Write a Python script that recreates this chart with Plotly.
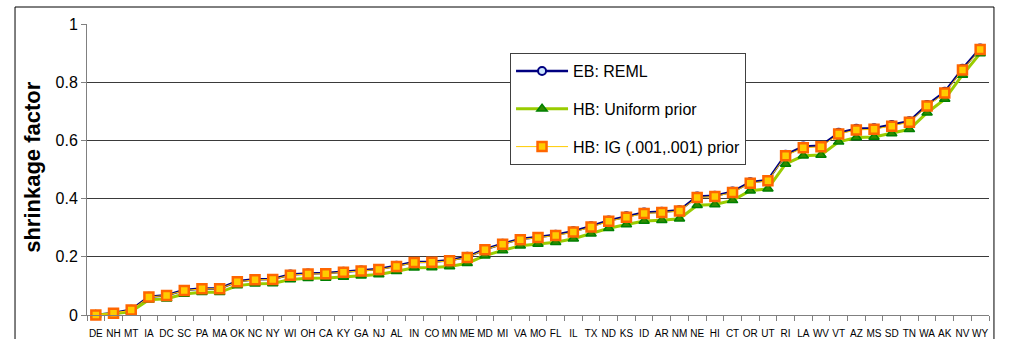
import plotly.graph_objects as go

states = ["DE", "NH", "MT", "IA", "DC", "SC", "PA", "MA", "OK", "NC", "NY", "WI", "OH",
          "CA", "KY", "GA", "NJ", "AL", "IN", "CO", "MN", "ME", "MD", "MI", "VA", "MO",
          "FL", "IL", "TX", "ND", "KS", "ID", "AR", "NM", "NE", "HI", "CT", "OR", "UT",
          "RI", "LA", "WV", "VT", "AZ", "MS", "SD", "TN", "WA", "AK", "NV", "WY"]

eb_reml = [0.000, 0.007, 0.018, 0.063, 0.068, 0.086, 0.091, 0.091, 0.116, 0.123, 0.124,
           0.139, 0.143, 0.144, 0.149, 0.153, 0.158, 0.169, 0.182, 0.183, 0.188, 0.200,
           0.226, 0.245, 0.261, 0.268, 0.276, 0.288, 0.305, 0.325, 0.339, 0.352, 0.355,
           0.360, 0.407, 0.410, 0.424, 0.456, 0.464, 0.551, 0.579, 0.582, 0.626, 0.640,
           0.642, 0.653, 0.666, 0.722, 0.767, 0.846, 0.916]

hb_uniform = [0.000, 0.004, 0.012, 0.052, 0.056, 0.072, 0.078, 0.078, 0.101, 0.107, 0.108,
              0.122, 0.126, 0.127, 0.131, 0.135, 0.139, 0.150, 0.162, 0.163, 0.167, 0.178,
              0.204, 0.222, 0.238, 0.244, 0.250, 0.262, 0.279, 0.298, 0.311, 0.323, 0.326,
              0.331, 0.377, 0.380, 0.394, 0.427, 0.434, 0.519, 0.547, 0.550, 0.595, 0.610,
              0.612, 0.624, 0.638, 0.695, 0.742, 0.825, 0.899]

hb_ig = [0.000, 0.006, 0.017, 0.062, 0.067, 0.084, 0.090, 0.090, 0.114, 0.121, 0.122,
         0.137, 0.141, 0.142, 0.147, 0.151, 0.156, 0.167, 0.180, 0.181, 0.186, 0.198,
         0.224, 0.243, 0.259, 0.266, 0.273, 0.285, 0.302, 0.322, 0.336, 0.349, 0.352,
         0.357, 0.404, 0.407, 0.421, 0.453, 0.461, 0.547, 0.575, 0.578, 0.622, 0.636,
         0.638, 0.649, 0.662, 0.718, 0.763, 0.842, 0.912]

y_ticks = [0, 0.2, 0.4, 0.6, 0.8, 1]
y_tick_text = ["0", "0.2", "0.4", "0.6", "0.8", "1"]

fig = go.Figure()

fig.add_trace(go.Scatter(
    x=states, y=eb_reml, name="EB: REML", mode="lines+markers",
    legendgroup="eb", cliponaxis=False,
    line=dict(color="#000080", width=2.5),
    marker=dict(symbol="circle", size=8, color="#CCE6FF",
                line=dict(color="#000080", width=2)),
))
fig.add_trace(go.Scatter(
    x=states, y=hb_uniform, name="HB: Uniform prior", mode="lines+markers",
    legendgroup="unif", cliponaxis=False,
    line=dict(color="#99CC00", width=3),
    marker=dict(symbol="triangle-up", size=9, color="#2E8B00",
                line=dict(color="#008000", width=1.5)),
))
fig.add_trace(go.Scatter(
    x=states, y=hb_ig, name="HB: IG (.001,.001) prior", mode="lines+markers",
    legendgroup="ig", cliponaxis=False,
    line=dict(color="#FFCC00", width=1),
    marker=dict(symbol="square", size=9, color="#FFCC00",
                line=dict(color="#FF6600", width=2.5)),
))

# outer chart frame
fig.add_shape(type="rect", xref="paper", yref="paper",
              x0=-0.0798, x1=1.0055, y0=-0.12, y1=1.0584,
              line=dict(color="black", width=1), fillcolor="rgba(0,0,0,0)",
              layer="below")

fig.add_annotation(
    text="<b>shrinkage factor</b>", textangle=-90,
    xref="paper", yref="paper", x=-0.0599, y=0.509,
    xanchor="center", yanchor="middle",
    showarrow=False, font=dict(family="Liberation Sans, Arial", size=22, color="black"),
)

fig.update_layout(
    width=1011, height=339,
    margin=dict(l=87, r=22, t=24, b=24),
    paper_bgcolor="white", plot_bgcolor="white",
    font=dict(family="Liberation Sans, Arial", color="black"),
    showlegend=True,
    legend=dict(
        x=0.469, y=0.900, xanchor="left", yanchor="top",
        bgcolor="white", bordercolor="#404040", borderwidth=1,
        font=dict(size=16, color="black"),
        tracegroupgap=14, itemwidth=52,
    ),
    xaxis=dict(
        type="category", categoryorder="array", categoryarray=states,
        range=[-0.5, len(states) - 0.5], automargin=False,
        showline=True, linecolor="#808080", linewidth=1,
        ticks="outside", ticklen=5, tickcolor="#808080", tickson="boundaries",
        tickfont=dict(size=10, color="black"), tickangle=0,
        ticklabelstandoff=9,
        showgrid=False, zeroline=False,
    ),
    yaxis=dict(
        range=[0, 1], tickvals=y_ticks, ticktext=y_tick_text, automargin=False,
        showline=True, linecolor="#808080", linewidth=1,
        ticks="outside", ticklen=5, tickcolor="#808080",
        tickfont=dict(size=16, color="black"),
        showgrid=True, gridcolor="#3a3a3a", gridwidth=1,
        zeroline=False,
    ),
)

fig.write_html("out.html")
